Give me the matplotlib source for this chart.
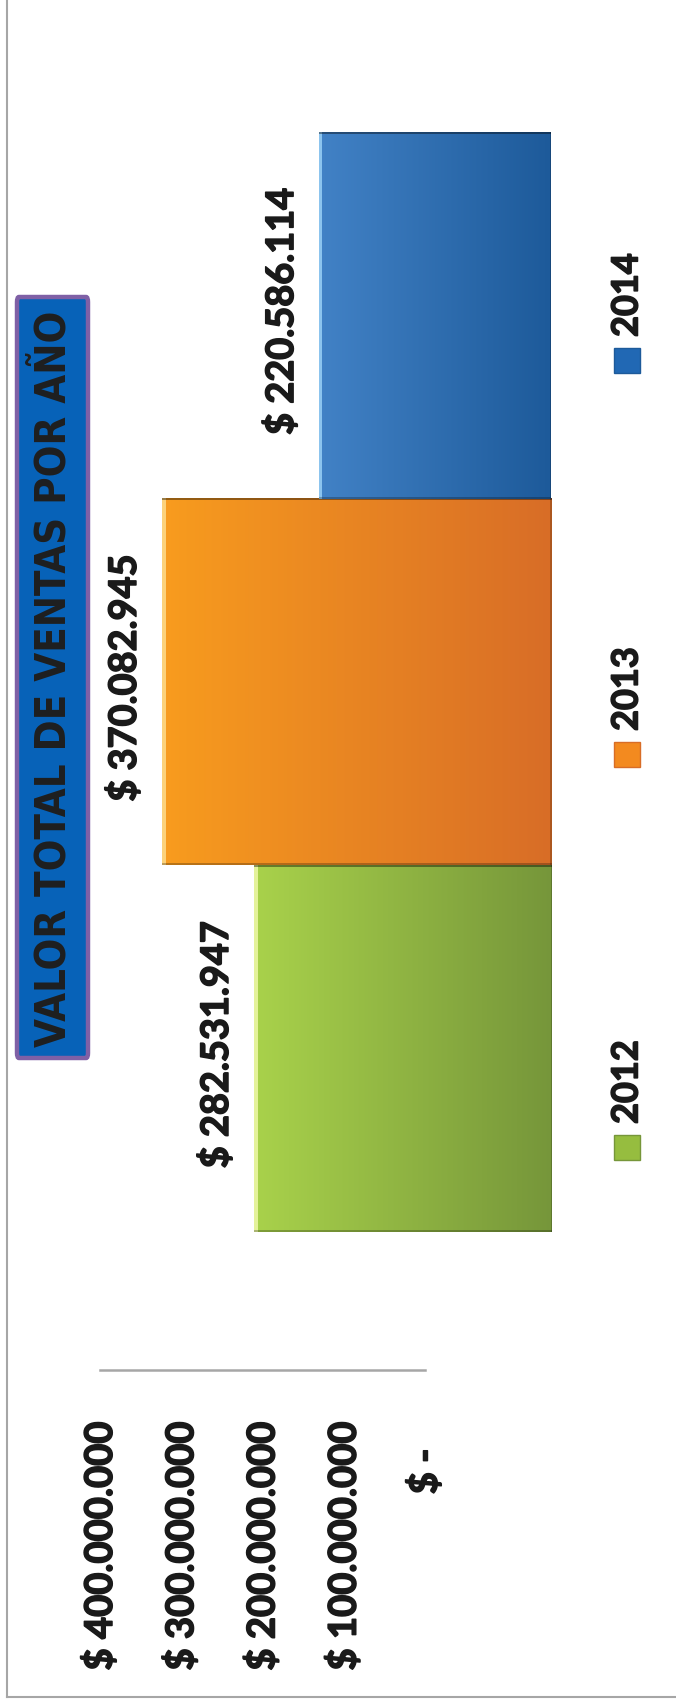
import numpy as np
import matplotlib
matplotlib.use("Agg")
import matplotlib.pyplot as plt
import matplotlib.patheffects as pe
from matplotlib.patches import Rectangle, FancyBboxPatch
from matplotlib.colors import to_rgb

# datos
anios = ["2012", "2013", "2014"]
ventas = [282531947, 370082945, 220586114]
ticks_valor = [0, 100000000, 200000000, 300000000, 400000000]
titulo = "VALOR TOTAL DE VENTAS POR AÑO"

# colores (punta -> base)
col_punta = ["#a9d24b", "#f89c1e", "#4282c6"]
col_base = ["#76963a", "#d86d27", "#1d5a9a"]
col_medio = ["#96bd3f", "#f38a1f", "#2168b4"]
col_brillo = ["#e4f29a", "#fcd27a", "#8cc4ee"]

W, H = 676, 1703
plt.rcParams['font.family'] = ['Lato', 'DejaVu Sans']
fig = plt.figure(figsize=(W / 100, H / 100), dpi=100)
grueso = [pe.withStroke(linewidth=1.1, foreground="#1a1a1a")]


def fx(px):
    return px / W


def fy(py):
    return 1 - py / H


def pesos(v):
    if v == 0:
        return "$ -   "
    return "$ " + f"{v:,}".replace(",", ".")


# borde del grafico
fig.add_artist(plt.Line2D([fx(7), fx(7)], [fy(0), fy(1697)], color="#a6a6a6", lw=1.5))
fig.add_artist(plt.Line2D([fx(7), fx(W)], [fy(1697), fy(1697)], color="#a6a6a6", lw=1.5))

# barras (grafico girado: el valor crece hacia la izquierda)
ax = fig.add_axes([fx(130.5), fy(1232), fx(551) - fx(130.5), fy(132) - fy(1232)])
ax.axis("off")

pos = np.arange(len(anios))
barras = ax.barh(pos, ventas, height=1.0, color=col_medio, edgecolor="none")

for i, b in enumerate(barras):
    c0 = np.array(to_rgb(col_base[i]))
    c1 = np.array(to_rgb(col_punta[i]))
    n = 400
    t = np.linspace(0, 1, n)
    grad = c0[None, :] * (1 - t[:, None]) + c1[None, :] * t[:, None]
    # brillo en la punta, sombra en la base
    m = int(n * 4 / (ventas[i] * 1.0513e-6))
    grad[-m:] = to_rgb(col_brillo[i])
    grad[:2] = grad[:2] * 0.8
    img = np.repeat(grad[None, :, :], 300, axis=0)
    img[:2] = img[:2] * 0.75
    img[-2:] = img[-2:] * 0.6
    ax.imshow(img, extent=(0, ventas[i], pos[i] - 0.5, pos[i] + 0.5), origin="lower",
              aspect="auto", interpolation="nearest", zorder=2, clip_path=b)
    ax.annotate(pesos(ventas[i]), xy=(ventas[i], pos[i]), xytext=(-20, 4),
                textcoords="offset pixels", rotation=90, ha="right", va="center",
                fontsize=27.3, fontweight="bold", color="#1a1a1a", path_effects=grueso)

ax.set_xlim(400000000, 0)
ax.set_ylim(-0.5, 2.5)

# eje de valores
ax2 = fig.add_axes([fx(100), fy(1371), fx(425) - fx(100), 1 / H])
ax2.set_xlim(400000000, 0)
ax2.set_ylim(0, 1)
for s in ["left", "right", "bottom"]:
    ax2.spines[s].set_visible(False)
ax2.spines["top"].set_color("#a6a6a6")
ax2.spines["top"].set_linewidth(1.8)
ax2.set_yticks([])
ax2.set_xticks(ticks_valor)
ax2.set_xticklabels([pesos(v) for v in ticks_valor], rotation=90, fontsize=27.5,
                    fontweight="bold", color="#1a1a1a")
for tl in ax2.get_xticklabels():
    tl.set_path_effects(grueso)
ax2.tick_params(axis="x", length=0, pad=36)
ax2.patch.set_visible(False)

# titulo
caja = FancyBboxPatch((fx(17), fy(1058)), fx(88) - fx(17), fy(297) - fy(1058),
                      boxstyle="round,pad=0,rounding_size=0.003",
                      transform=fig.transFigure, facecolor="#0762b8",
                      edgecolor="#7f60a6", linewidth=3.2)
fig.add_artist(caja)
fig.text(fx(54), fy(679), titulo, rotation=90, ha="center", va="center",
         fontsize=30, fontweight="bold", fontstretch="condensed", color="#1f1f1f",
         family=["DejaVu Sans"])

# leyenda
ley_y = [1135, 742, 348]
for i, a in enumerate(anios):
    y0 = ley_y[i]
    fig.add_artist(Rectangle((fx(614), fy(y0 + 25)), fx(640) - fx(614), fy(y0) - fy(y0 + 25),
                             transform=fig.transFigure, facecolor=col_medio[i],
                             edgecolor=col_base[i], linewidth=1))
    fig.text(fx(627), fy(y0 - 11), a, rotation=90, ha="center", va="bottom",
             fontsize=26, fontweight="bold", color="#1a1a1a", path_effects=grueso)

fig.savefig("out.png", dpi=100)
